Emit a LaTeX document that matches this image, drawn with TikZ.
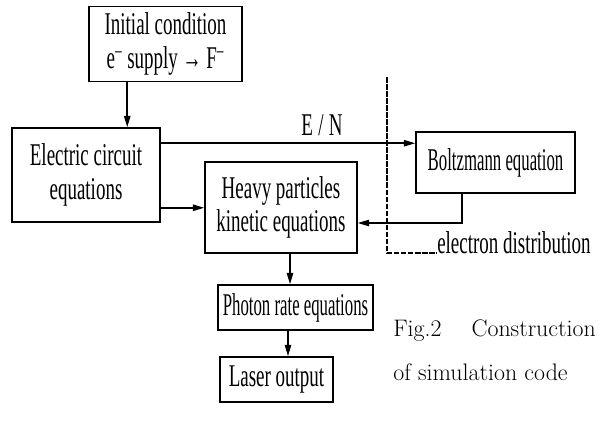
\documentclass[tikz,border=0pt]{standalone}
\usepackage{fontspec}
\newfontfamily\narrowfont[FakeStretch=0.6]{Liberation Serif}
\newfontfamily\tightfont[FakeStretch=0.53]{Liberation Serif}
\usetikzlibrary{
  arrows.meta,
  calc
}

\begin{document}
\begin{tikzpicture}[x=0.025cm, y=-0.025cm,
  >={Triangle[length=8pt,width=4.5pt]},
  blk/.style={draw, line width=1.1pt, align=center, inner sep=0pt,
    font=\narrowfont\fontsize{22.5}{24}\selectfont},
  tight/.style={font=\tightfont\fontsize{22.5}{24}\selectfont},
  boxsize/.style 2 args={minimum width=#1*0.025cm, minimum height=#2*0.025cm},
  arr/.style={->, line width=1.1pt},
  lbl/.style={font=\narrowfont\fontsize{22.5}{24}\selectfont, inner sep=0pt},
  figcap/.style={font=\fontsize{17}{19}\selectfont, anchor=west, inner sep=0pt}]

  \useasboundingbox (0,0) rectangle (611,429);

  %% ===== BLOCKS =====
  \node[blk, boxsize={153}{75}] (init) at (165.5,44)
    {Initial condition\\e\textsuperscript{–} supply → F\textsuperscript{–}};
  \node[blk, boxsize={148}{94}] (elec) at (86,175)
    {Electric circuit\\equations};
  \node[blk, tight, boxsize={159}{61}] (boltz) at (495.5,162.5)
    {Boltzmann equation};
  \node[blk, boxsize={152}{91}] (heavy) at (281,207.5)
    {Heavy particles\\kinetic equations};
  \node[blk, tight, boxsize={155}{45}] (photon) at (295.5,307.5)
    {Photon rate equations};
  \node[blk, boxsize={113}{45}] (laser) at (276.5,379.5)
    {Laser output};

  %% ===== CONNECTORS =====
  \draw[arr] ([xshift=39*0.025cm]init.south west)
    -- ([xshift=39*0.025cm]init.south west |- elec.north);
  \draw[arr] ([yshift=-16*0.025cm]elec.north east)
    -- ([yshift=-16*0.025cm]elec.north east -| boltz.west);
  \draw[arr] ([yshift=15*0.025cm]elec.south east)
    -- ([yshift=15*0.025cm]elec.south east -| heavy.west);
  \draw[arr] ([xshift=-33.5*0.025cm]boltz.south)
    |- ([yshift=-15.5*0.025cm]heavy.east);
  \draw[arr] ([xshift=9*0.025cm]heavy.south)
    -- ([xshift=9*0.025cm]heavy.south |- photon.north);
  \draw[arr] ([xshift=-7.5*0.025cm]photon.south)
    -- ([xshift=-7.5*0.025cm]photon.south |- laser.north);

  % E/N label on the upper line
  \node[lbl] (en) at (322,125) {E\,/\,N};

  %% ===== SPLIT LINE =====
  \coordinate (dtop) at (387,77);
  \node[lbl, anchor=base west] (edist) at (437,253) {electron distribution};
  \draw[line width=0.8pt, dash pattern=on 4pt off 1pt] (dtop) |- (edist.base west);

  %% ===== CAPTION =====
  \node[figcap] (fig1) at (393,331) {Fig.2\hspace{0.75cm}Construction};
  \node[figcap] (fig2) at (393,372) {of simulation code};

\end{tikzpicture}
\end{document}
